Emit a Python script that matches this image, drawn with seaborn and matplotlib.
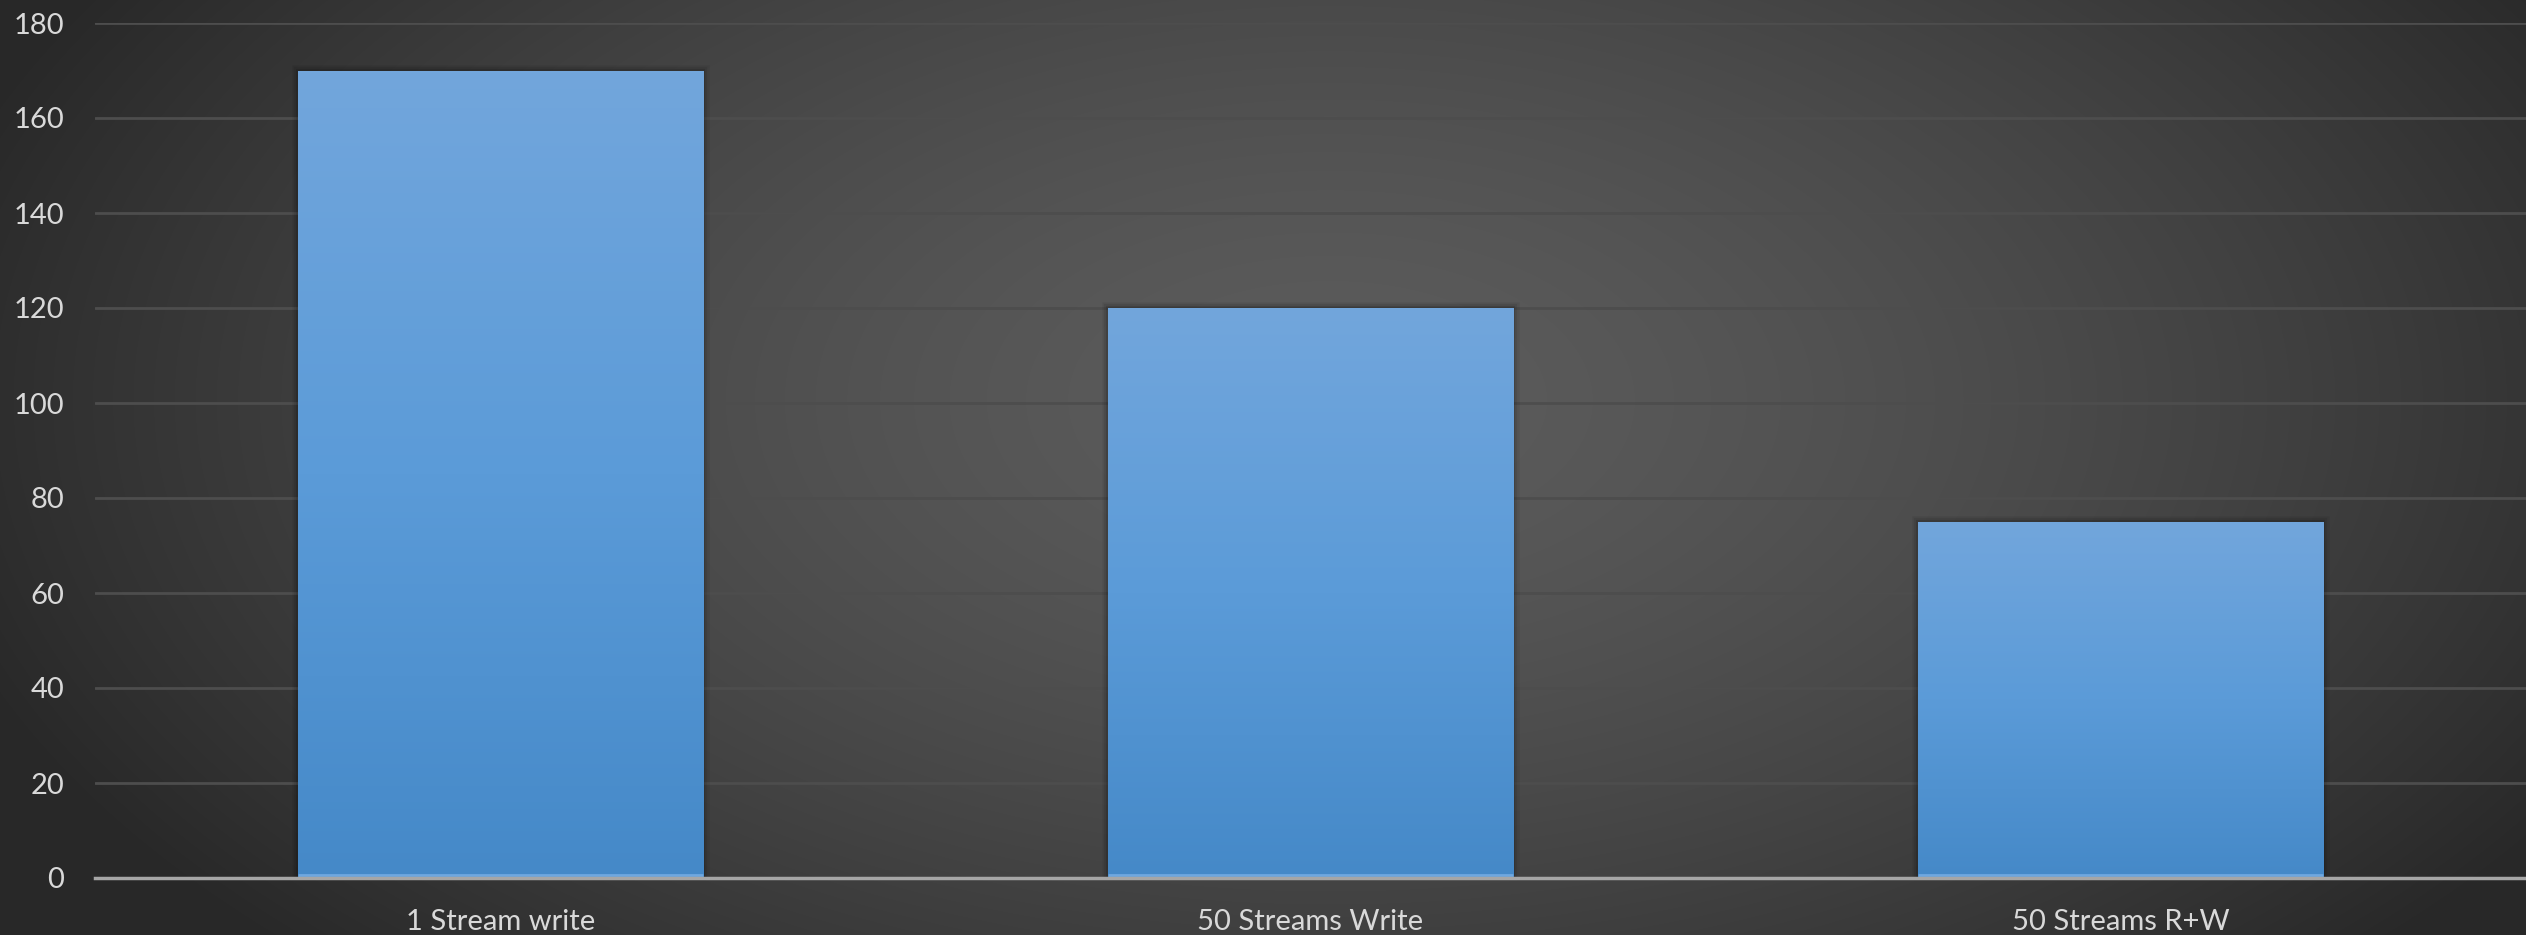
import numpy as np
import pandas as pd
import matplotlib
matplotlib.use("Agg")
import matplotlib.pyplot as plt
import matplotlib.patheffects as pe
from matplotlib.colors import LinearSegmentedColormap
import seaborn as sns

categories = ["1 Stream write", "50 Streams Write", "50 Streams R+W"]
values = [170, 120, 75]
yticks = [0, 20, 40, 60, 80, 100, 120, 140, 160, 180]

df = pd.DataFrame({"category": categories, "value": values})

sns.set_theme(style="dark")
plt.rcParams["font.family"] = ["Lato", "DejaVu Sans"]

W, H, DPI = 2526, 935, 100
fig = plt.figure(figsize=(W / DPI, H / DPI), dpi=DPI)

# background radial gradient
bg = fig.add_axes([0, 0, 1, 1], zorder=-10)
yy, xx = np.mgrid[0:H, 0:W]
cx, cy, rx, ry = 1330, 400, 1450, 800
d = np.sqrt(((xx - cx) / rx) ** 2 + ((yy - cy) / ry) ** 2)
d = np.clip(d, 0, 1)
c0 = np.array([0x5c, 0x5c, 0x5c]) / 255
c1 = np.array([0x28, 0x28, 0x28]) / 255
t = d ** 1.5
img = c0[None, None, :] * (1 - t[..., None]) + c1[None, None, :] * t[..., None]
bg.imshow(img, aspect="auto", extent=[0, 1, 0, 1], origin="upper")
bg.axis("off")

ax = fig.add_axes([95 / W, (H - 878) / H, 1 - 95 / W, (878 - 23) / H])
ax.patch.set_alpha(0)

sns.barplot(data=df, x="category", y="value", ax=ax, width=0.5,
            color="#5b9bd5", saturation=1, zorder=3, linewidth=0)

ax.set_ylim(0, 180)
ax.set_xlim(-0.5, len(categories) - 0.5)
ax.set_yticks(yticks)
ax.set_yticklabels([str(v) for v in yticks])
ax.grid(axis="y", color="#4d4d4d", linewidth=2, zorder=0)
ax.grid(axis="x", visible=False)
ax.set_axisbelow(True)
for s in ["left", "right", "top"]:
    ax.spines[s].set_visible(False)
ax.spines["bottom"].set_color("#a6a6a6")
ax.spines["bottom"].set_linewidth(2.5)
ax.spines["bottom"].set_zorder(6)
ax.set_xlabel("")
ax.set_ylabel("")
ax.tick_params(axis="y", length=0, pad=22, labelsize=21, labelcolor="#d9d9d9")
ax.tick_params(axis="x", length=0, pad=22, labelsize=21, labelcolor="#d9d9d9")

# gradient fill for bars, with a soft glow shadow
cmap = LinearSegmentedColormap.from_list("bar", ["#4589c8", "#5b9bd8", "#72a6dc"])
grad = np.linspace(0, 1, 256).reshape(-1, 1)
for p in ax.patches:
    x0, w, h = p.get_x(), p.get_width(), p.get_height()
    p.set_path_effects([
        pe.Stroke(linewidth=9, foreground="black", alpha=0.06),
        pe.Stroke(linewidth=6, foreground="black", alpha=0.08),
        pe.Stroke(linewidth=3, foreground="black", alpha=0.12),
        pe.Normal()])
    im = ax.imshow(grad, cmap=cmap, origin="lower", aspect="auto",
                   extent=[x0, x0 + w, 0, h], zorder=4)
    im.set_clip_path(p)
    ax.plot([x0, x0 + w], [0.6, 0.6], color="#6fa8e0", linewidth=2, zorder=5,
            solid_capstyle="butt")

ax.set_xlim(-0.5, len(categories) - 0.5)
ax.set_ylim(0, 180)

fig.savefig("out.png", dpi=DPI)
